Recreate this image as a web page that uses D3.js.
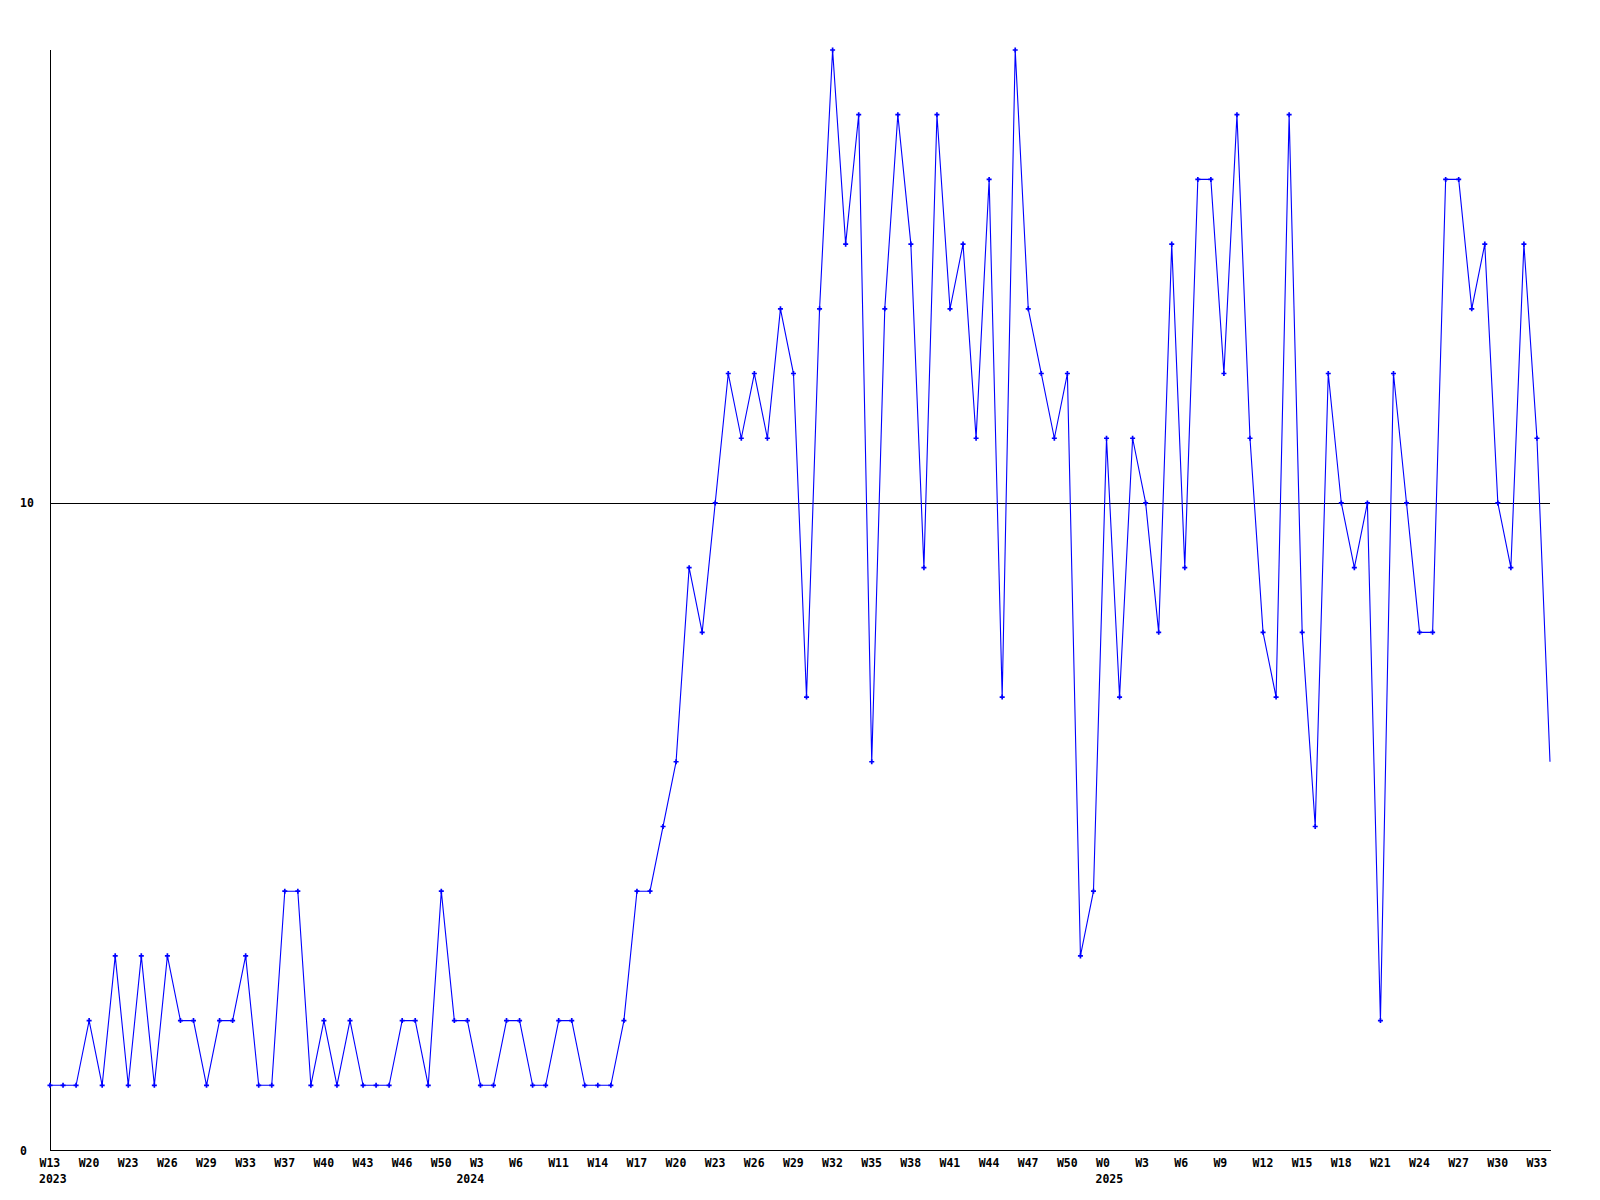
<!DOCTYPE html>
<html>
<head>
<meta charset="utf-8">
<script src="https://cdn.jsdelivr.net/npm/d3@7"></script>
<style>
  html, body { margin: 0; padding: 0; background: #ffffff; }
  svg { display: block; }
  text { font-family: "DejaVu Sans Mono", monospace; font-weight: bold; font-size: 11.5px; fill: #000; }
</style>
</head>
<body>
<svg id="chart" width="1600" height="1200"></svg>
<script>
// ---- data ----
const values = [
  1, 1, 1, 2, 1, 3, 1, 3, 1, 3,
  2, 2, 1, 2, 2, 3, 1, 1, 4, 4,
  1, 2, 1, 2, 1, 1, 1, 2, 2, 1,
  4, 2, 2, 1, 1, 2, 2, 1, 1, 2,
  2, 1, 1, 1, 2, 4, 4, 5, 6, 9,
  8, 10, 12, 11, 12, 11, 13, 12, 7, 13,
  17, 14, 16, 6, 13, 16, 14, 9, 16, 13,
  14, 11, 15, 7, 17, 13, 12, 11, 12, 3,
  4, 11, 7, 11, 10, 8, 14, 9, 15, 15,
  12, 16, 11, 8, 7, 16, 8, 5, 12, 10,
  9, 10, 2, 12, 10, 8, 8, 15, 15, 13,
  14, 10, 9, 14, 11, 6
];
const tickLabels = [
  "W13", "W20", "W23", "W26", "W29", "W33", "W37", "W40", "W43", "W46", "W50",
  "W3", "W6", "W11", "W14", "W17", "W20", "W23", "W26", "W29", "W32", "W35",
  "W38", "W41", "W44", "W47", "W50",
  "W0", "W3", "W6", "W9", "W12", "W15", "W18", "W21", "W24", "W27", "W30", "W33"
];
const yearLabels = ["2023", "2024", "2025"];
const yearPositions = [0, 32, 81];   // point index under which each year is written
const yTicks = [0, 10];
const tickStep = 3;                   // one x label every 3 points

// ---- layout ----
const plotLeft = 50, plotRight = 1550, plotTop = 50, plotBottom = 1150;
const svg = d3.select("#chart");

const x = d3.scaleLinear().domain([0, values.length - 1]).range([plotLeft, plotRight]);
const y = d3.scaleLinear().domain([0, 17]).range([plotBottom, plotTop]);

// horizontal grid line at 10
svg.append("g").selectAll("line")
  .data(yTicks.filter(d => d !== 0))
  .join("line")
  .attr("x1", plotLeft).attr("x2", plotRight)
  .attr("y1", d => Math.round(y(d)) + 0.5).attr("y2", d => Math.round(y(d)) + 0.5)
  .attr("stroke", "#000").attr("stroke-width", 1)
  .attr("shape-rendering", "crispEdges");

// axes
svg.append("line")
  .attr("x1", plotLeft + 0.5).attr("x2", plotLeft + 0.5)
  .attr("y1", plotTop).attr("y2", plotBottom + 0.5)
  .attr("stroke", "#000").attr("shape-rendering", "crispEdges");
svg.append("line")
  .attr("x1", plotLeft).attr("x2", plotRight + 1)
  .attr("y1", plotBottom + 0.5).attr("y2", plotBottom + 0.5)
  .attr("stroke", "#000").attr("shape-rendering", "crispEdges");

// y labels
svg.append("g").selectAll("text")
  .data(yTicks)
  .join("text")
  .attr("x", 20)
  .attr("y", d => y(d) + 4.5)
  .text(d => d);

// x labels
svg.append("g").selectAll("text")
  .data(tickLabels)
  .join("text")
  .attr("x", (d, i) => x(i * tickStep) - 10.5)
  .attr("y", plotBottom + 17)
  .text(d => d);

// year labels
svg.append("g").selectAll("text")
  .data(yearLabels)
  .join("text")
  .attr("x", (d, i) => x(yearPositions[i]) - 11)
  .attr("y", plotBottom + 33)
  .text(d => d);

// data line
const line = d3.line().x((d, i) => x(i)).y(d => y(d));
svg.append("path")
  .datum(values)
  .attr("d", line)
  .attr("fill", "none")
  .attr("stroke", "#0000ff")
  .attr("stroke-width", 1.1);

// markers (the last, still-open week has none)
svg.append("g").selectAll("path")
  .data(values.slice(0, values.length - 1))
  .join("path")
  .attr("transform", (d, i) => `translate(${x(i)},${y(d)})`)
  .attr("d", d3.symbol().type(d3.symbolCross).size(14))
  .attr("fill", "#0000ff");
</script>
</body>
</html>
